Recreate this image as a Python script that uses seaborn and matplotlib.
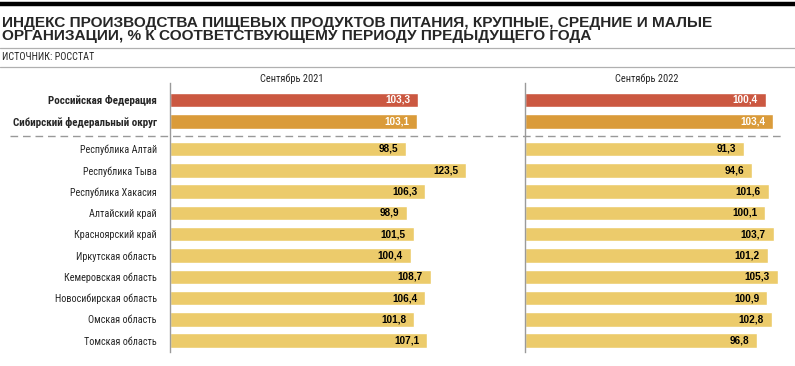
import numpy as np
import pandas as pd
import matplotlib
matplotlib.use("Agg")
import matplotlib.pyplot as plt
import seaborn as sns
from matplotlib.lines import Line2D

# Data
regions = [
    "Российская Федерация", "Сибирский федеральный округ",
    "Республика Алтай", "Республика Тыва", "Республика Хакасия",
    "Алтайский край", "Красноярский край", "Иркутская область",
    "Кемеровская область", "Новосибирская область", "Омская область",
    "Томская область",
]
values_2021 = [103.3, 103.1, 98.5, 123.5, 106.3, 98.9, 101.5, 100.4, 108.7, 106.4, 101.8, 107.1]
values_2022 = [100.4, 103.4, 91.3, 94.6, 101.6, 100.1, 103.7, 101.2, 105.3, 100.9, 102.8, 96.8]
groups = ["rf", "sfo"] + ["region"] * 10
periods = ["Сентябрь 2021", "Сентябрь 2022"]

title_1 = "ИНДЕКС ПРОИЗВОДСТВА ПИЩЕВЫХ ПРОДУКТОВ ПИТАНИЯ, КРУПНЫЕ, СРЕДНИЕ И МАЛЫЕ"
title_2 = "ОРГАНИЗАЦИИ, % К СООТВЕТСТВУЮЩЕМУ ПЕРИОДУ ПРЕДЫДУЩЕГО ГОДА"
source = "ИСТОЧНИК: РОССТАТ"

palette = {"rf": "#CB5841", "sfo": "#DA9B3A", "region": "#ECCB6B"}
label_colors = {"rf": "white", "sfo": "white", "region": "black"}

sns.set_style("white")
narrow = ["Roboto Condensed", "Liberation Sans Narrow", "Liberation Sans", "DejaVu Sans"]
wide = ["Liberation Sans", "DejaVu Sans"]
plt.rcParams["font.family"] = narrow

W, H = 795, 366
fig = plt.figure(figsize=(W / 100, H / 100), dpi=100)

# row positions: a small gap after the first two rows
idx = np.arange(len(regions))
row_pos = idx + np.where(idx >= 2, 0.3, 0.0)

def px_box(x0, x1, y0, y1):
    return [x0 / W, 1 - y1 / H, (x1 - x0) / W, (y1 - y0) / H]

scale = 2.4  # pixels per unit
panels = [(170, 515), (525, 790)]
y_top, y_bot = 83, 352
row_h = 21.3
ylim = ((y_bot - 100) / row_h, (y_top - 100) / row_h)

for i, (vals, (x0, x1)) in enumerate(zip([values_2021, values_2022], panels)):
    ax = fig.add_axes(px_box(x0, x1, y_top, y_bot))
    df = pd.DataFrame({"value": vals, "pos": row_pos, "group": groups})
    sns.barplot(data=df, x="value", y="pos", hue="group", palette=palette,
                orient="h", native_scale=True, width=0.68, dodge=False,
                legend=False, saturation=1, errorbar=None, ax=ax)
    ax.set_xlim(0, (x1 - x0) / scale)
    ax.set_ylim(*ylim)
    for s in ["top", "right", "bottom"]:
        ax.spines[s].set_visible(False)
    ax.spines["left"].set_color("#9a9a9a")
    ax.spines["left"].set_linewidth(1.0)
    ax.set_xticks([])
    ax.set_xlabel("")
    ax.set_ylabel("")
    ax.tick_params(axis="y", length=0, pad=9.5)
    if i == 0:
        ax.set_yticks(row_pos)
        ax.set_yticklabels(regions, fontsize=7.3)
        for t, g in zip(ax.get_yticklabels(), groups):
            if g != "region":
                t.set_fontweight("bold")
                t.set_fontsize(7.9)
    else:
        ax.set_yticks([])
    for v, p, g in zip(vals, row_pos, groups):
        ax.annotate(f"{v:.1f}".replace(".", ","), (v, p), xytext=(-8, 0),
                    textcoords="offset pixels", ha="right", va="center",
                    fontsize=7.2, fontweight="bold", color=label_colors[g],
                    family=wide)
    fig.text((x0 + 122) / W, 1 - 82 / H, periods[i], ha="center",
             va="baseline", fontsize=7.5)

# header decoration
fig.add_artist(Line2D([0, 1], [1 - 4 / H, 1 - 4 / H], color="black", lw=3.2))
for yy in [48, 67]:
    fig.add_artist(Line2D([0, 1], [1 - yy / H, 1 - yy / H], color="#b0b0b0", lw=0.9))
fig.add_artist(Line2D([10 / W, 785 / W], [1 - 136 / H, 1 - 136 / H], color="#999999",
                      lw=1.0, linestyle=(0, (5.5, 3.5))))

fig.text(2 / W, 1 - 27 / H, title_1, ha="left", va="baseline", fontsize=11.1,
         fontweight="bold", family=wide)
fig.text(2 / W, 1 - 40 / H, title_2, ha="left", va="baseline", fontsize=11.1,
         fontweight="bold", family=wide)
fig.text(2 / W, 1 - 60 / H, source, ha="left", va="baseline", fontsize=7.3)

fig.savefig("out.png", dpi=100)
